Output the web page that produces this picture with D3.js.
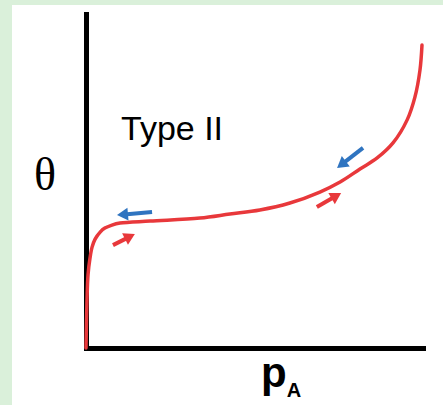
<!DOCTYPE html>
<html>
<head>
<meta charset="utf-8">
<script src="https://cdn.jsdelivr.net/npm/d3@7"></script>
<style>
  html, body { margin: 0; padding: 0; background: #daf0da; }
  svg { display: block; }
</style>
</head>
<body>
<svg id="chart" width="443" height="405"></svg>
<script>
// Type II isotherm (relative units 0..1)
const pressure = [0, 0.003, 0.006, 0.012, 0.018, 0.027, 0.042, 0.056, 0.077, 0.101, 0.19, 0.338, 0.427, 0.516, 0.605, 0.694, 0.754, 0.813, 0.864, 0.911, 0.953, 0.976, 0.991, 0.997];
const coverage = [0, 0.144, 0.219, 0.27, 0.302, 0.326, 0.347, 0.359, 0.368, 0.374, 0.38, 0.389, 0.401, 0.413, 0.434, 0.467, 0.497, 0.536, 0.569, 0.614, 0.683, 0.751, 0.832, 0.907];

// direction arrows: adsorption (up) / desorption (down)
const arrowKind = ["desorption", "adsorption", "desorption", "adsorption"];
const arrowFromP = [0.196, 0.080, 0.822, 0.685];
const arrowFromT = [0.407, 0.308, 0.599, 0.422];
const arrowToP = [0.092, 0.145, 0.745, 0.757];
const arrowToT = [0.398, 0.341, 0.539, 0.464];

const svg = d3.select("#chart");
const width = 443;
const height = 405;

svg.append("rect").attr("x", 12).attr("y", 5).attr("width", width - 12).attr("height", height - 5).attr("fill", "#ffffff");

const x = d3.scaleLinear().domain([0, 1]).range([86, 423]);
const y = d3.scaleLinear().domain([0, 1]).range([348, 14]);
const arrowColor = d3.scaleOrdinal().domain(["adsorption", "desorption"]).range(["#e8383b", "#2f74c0"]);

// axes, no ticks
const xAxis = svg.append("g").attr("transform", `translate(0,${y(0)})`).call(d3.axisBottom(x).ticks(0).tickSize(0).tickSizeOuter(0));
const yAxis = svg.append("g").attr("transform", `translate(${x(0)},0)`).call(d3.axisLeft(y).ticks(0).tickSize(0).tickSizeOuter(0));
[xAxis, yAxis].forEach((g) => {
  g.select(".domain").attr("stroke", "#000").attr("stroke-width", 5).attr("stroke-linecap", "square");
});

const points = pressure.map((p, i) => ({ p, t: coverage[i] }));
const line = d3.line().x((d) => x(d.p)).y((d) => y(d.t)).curve(d3.curveCatmullRom.alpha(0.5));
svg.append("path").datum(points).attr("d", line)
  .attr("fill", "none").attr("stroke", "#e8383b").attr("stroke-width", 3.5).attr("stroke-linecap", "round");

// arrows
arrowKind.forEach((kind, i) => {
  const x1 = x(arrowFromP[i]);
  const y1 = y(arrowFromT[i]);
  const x2 = x(arrowToP[i]);
  const y2 = y(arrowToT[i]);
  const ang = Math.atan2(y2 - y1, x2 - x1);
  const headLen = 11;
  const headHalf = 6.5;
  const bx = x2 - headLen * Math.cos(ang);
  const by = y2 - headLen * Math.sin(ang);
  const color = arrowColor(kind);
  svg.append("line").attr("x1", x1).attr("y1", y1).attr("x2", bx + Math.cos(ang)).attr("y2", by + Math.sin(ang))
    .attr("stroke", color).attr("stroke-width", 4);
  const nx = -Math.sin(ang);
  const ny = Math.cos(ang);
  svg.append("path")
    .attr("d", `M${x2},${y2}L${bx + nx * headHalf},${by + ny * headHalf}L${bx - nx * headHalf},${by - ny * headHalf}Z`)
    .attr("fill", color);
});

svg.append("text").attr("x", 121).attr("y", 140)
  .attr("font-family", "Liberation Sans, Arial, sans-serif").attr("font-size", 34).attr("fill", "#000")
  .text("Type II");

svg.append("text").attr("x", 45).attr("y", 190).attr("text-anchor", "middle")
  .attr("font-family", "Liberation Serif, serif").attr("font-size", 46).attr("fill", "#000")
  .text("θ");

const pa = svg.append("text").attr("x", 261).attr("y", 387)
  .attr("font-family", "Liberation Sans, Arial, sans-serif").attr("font-weight", "bold").attr("fill", "#000");
pa.append("tspan").attr("font-size", 42).text("p");
pa.append("tspan").attr("font-size", 20).attr("dy", 10).text("A");
</script>
</body>
</html>
